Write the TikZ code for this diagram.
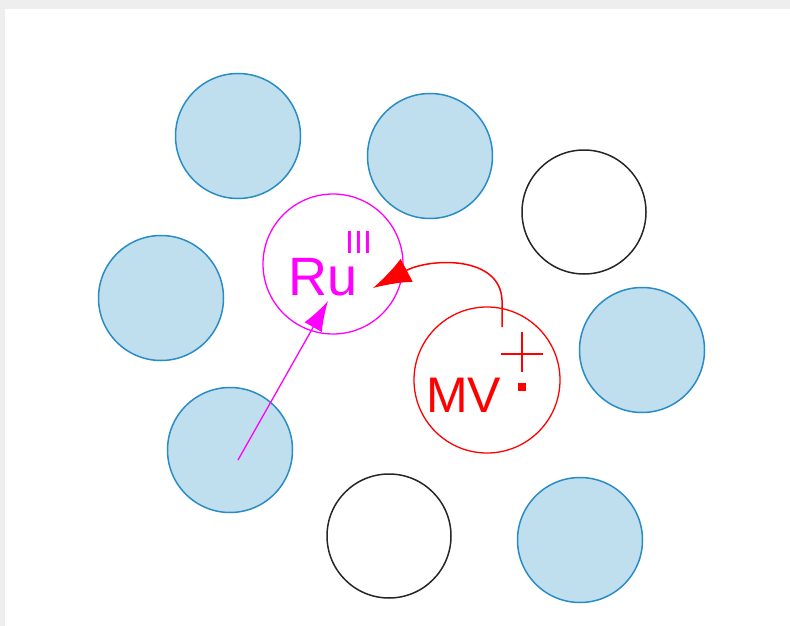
\documentclass[tikz,border=0pt]{standalone}
\usepackage{fontspec}
\setmainfont{Liberation Sans}
\usetikzlibrary{arrows.meta}
\definecolor{ballfill}{HTML}{BFDFEE}
\definecolor{balledge}{HTML}{2A8CC6}
\definecolor{bggray}{HTML}{EEEEEE}
\definecolor{mag}{HTML}{FF00FF}
\begin{document}
\begin{tikzpicture}[x=1pt,y=-1pt,
  ball/.style={circle,draw=balledge,fill=ballfill,line width=1.5pt,minimum size=125pt,inner sep=0pt},
  hole/.style={circle,draw=black!85,line width=1.5pt,minimum size=124pt,inner sep=0pt},
  rucirc/.style={circle,draw=mag,line width=1.3pt,minimum size=140pt,inner sep=0pt},
  mvcirc/.style={circle,draw=red,line width=1.3pt,minimum size=146pt,inner sep=0pt},
  lbl/.style={inner sep=0pt,anchor=base west}]
\useasboundingbox (0,0) rectangle (790,626);
\fill[bggray] (0,0) rectangle (790,626);
\fill[white] (4.5,9.5) rectangle (790,626);
% spheres
\node[ball] (b1) at (238,136) {};
\node[ball] (b2) at (430,156) {};
\node[hole] (h1) at (584,212) {};
\node[ball] (b3) at (161,298) {};
\node[ball] (b4) at (642,350) {};
\node[ball] (b5) at (230,450) {};
\node[hole] (h2) at (389,536) {};
\node[ball] (b6) at (580,540) {};
% Ru and MV
\node[rucirc] (ru) at (333,264) {};
\node[mvcirc] (mv) at (487,380) {};
\node[lbl,text=mag,font=\fontsize{54}{54}\selectfont] (rutxt) at (288,295) {Ru\kern-12pt\raisebox{42pt}{\fontsize{32}{32}\selectfont III}};
\node[lbl,text=red,font=\fontsize{50}{50}\selectfont] (mvtxt) at (426,412) {MV};
% charge and radical dot
\draw[red,line width=1.5pt] (501,354) -- (543,354);
\draw[red,line width=1.5pt] (522,332) -- (522,372);
\node[fill=red,minimum size=8pt,inner sep=0pt] (dot) at (522,387) {};
% arrows
\coordinate (mvs) at (502,327);
\coordinate (mvt) at (502,300);
\coordinate (rutip) at (373,288);
\draw[red,line width=1.5pt,-{Latex[length=38pt,width=26pt]}] (mvs) -- (mvt) .. controls (500,255) and (430,258) .. (rutip);
\coordinate (b5c) at (238,460);
\coordinate (rutip2) at (328,301);
\draw[mag,line width=1.3pt,-{Latex[length=30pt,width=20pt]}] (b5c) -- (rutip2);
\end{tikzpicture}
\end{document}
